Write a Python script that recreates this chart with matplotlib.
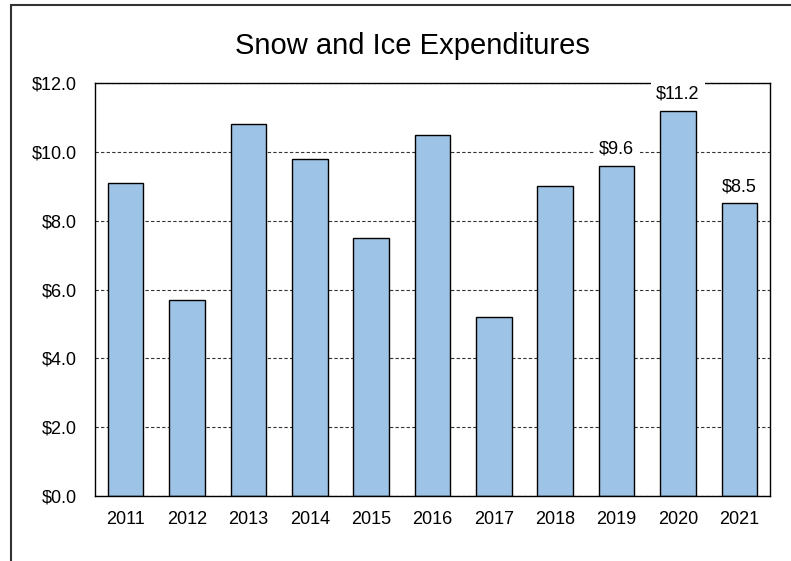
import matplotlib
matplotlib.use("Agg")
import matplotlib.pyplot as plt
from matplotlib.patches import Rectangle

years = ["2011", "2012", "2013", "2014", "2015", "2016", "2017", "2018", "2019", "2020", "2021"]
spend = [9.1, 5.7, 10.8, 9.8, 7.5, 10.5, 5.2, 9.0, 9.6, 11.2, 8.5]
labeled_years = ["2019", "2020", "2021"]
y_ticks = [0, 2, 4, 6, 8, 10, 12]

plt.rcParams["font.family"] = ["Liberation Sans", "DejaVu Sans"]

fig = plt.figure(figsize=(7.91, 5.61), dpi=100)
ax = fig.add_axes([95 / 791, 1 - 496 / 561, 675 / 791, 413 / 561])

x = range(len(years))
ax.bar(x, spend, width=0.58, color="#9DC3E6", edgecolor="black", linewidth=1.0, zorder=3)

ax.set_xlim(-0.5, len(years) - 0.5)
ax.set_ylim(0, 12)
ax.set_xticks(list(x))
ax.set_xticklabels(years, fontsize=13)
ax.set_yticks(y_ticks)
ax.set_yticklabels([f"${v:.1f}" for v in y_ticks], fontsize=13)
ax.tick_params(axis="x", length=0, pad=11)
ax.tick_params(axis="y", length=0, pad=13)

ax.yaxis.grid(True, linestyle=(0, (3, 2)), color="#333333", linewidth=0.8, zorder=1)
ax.set_axisbelow(True)
for s in ax.spines.values():
    s.set_color("black")
    s.set_linewidth(1.0)
    s.set_zorder(4)

for i, (yr, v) in enumerate(zip(years, spend)):
    if yr in labeled_years:
        ax.annotate(f"${v:.1f}", xy=(i, v), xytext=(0, 12), textcoords="offset points",
                    ha="center", va="center", fontsize=13, zorder=6, clip_on=False,
                    bbox=dict(boxstyle="square,pad=0.3", facecolor="white", edgecolor="none"))

fig.text(412 / 791, 1 - 46 / 561, "Snow and Ice Expenditures", ha="center", va="center", fontsize=21)

# outer chart frame, running off the right and bottom edges
fig.patches.append(Rectangle((10.5 / 791, -0.05), 1.2, 1 - 4.5 / 561 + 0.05,
                             transform=fig.transFigure, fill=False,
                             edgecolor="#333333", linewidth=1.5))

fig.savefig("out.png", dpi=100)
